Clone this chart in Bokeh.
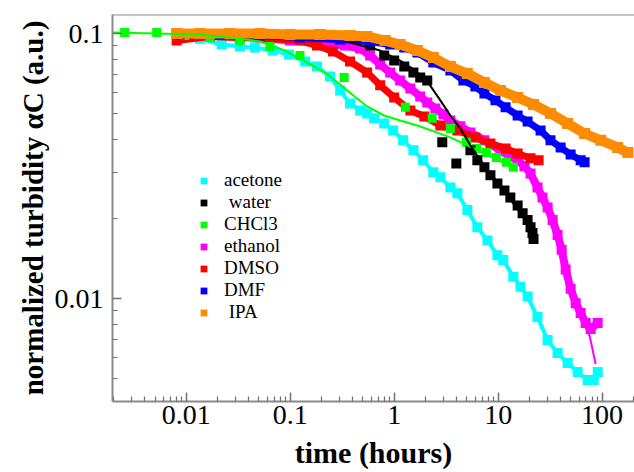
from bokeh.plotting import figure
from bokeh.models import FixedTicker, Legend, LegendItem, Span, CustomJSTickFormatter
from bokeh.embed import file_html
from bokeh.resources import INLINE

# ---------------- data ----------------
acetone_t = [0.00826, 0.0135, 0.0219, 0.0327, 0.0457, 0.0681, 0.0972, 0.139, 0.181, 0.241,
             0.302, 0.376, 0.470, 0.549, 0.641, 0.801, 0.978, 1.22, 1.53, 1.90,
             2.38, 2.78, 3.47, 4.05, 5.06, 6.31, 7.89, 9.84, 11.2, 14.0,
             16.4, 19.2, 23.9, 29.9, 37.3, 46.6, 58.2, 72.6, 83.0, 90.7]
acetone_c = [0.0991, 0.0957, 0.0909, 0.0894, 0.0886, 0.0863, 0.0834, 0.0785, 0.0751, 0.0689,
             0.0610, 0.0545, 0.0513, 0.0500, 0.0479, 0.0458, 0.0431, 0.0396, 0.0363, 0.0333,
             0.0300, 0.0287, 0.0263, 0.0250, 0.0216, 0.0186, 0.0166, 0.0146, 0.0140, 0.0121,
             0.0111, 0.0102, 0.00853, 0.00699, 0.00625, 0.00573, 0.00530, 0.00494, 0.00494, 0.00530]

water_t = [0.587, 0.801, 1.0, 1.25, 1.53, 1.78, 2.08,
           2.90, 3.96, 5.41, 6.31, 7.38, 8.43, 9.84, 11.5, 13.1, 15.4,
           17.2, 19.2, 20.5, 21.4, 21.9]
water_c = [0.0901, 0.0826, 0.0791, 0.0751, 0.0713, 0.0683, 0.0665,
           0.0389, 0.0324, 0.0363, 0.0333, 0.0313, 0.0292, 0.0272, 0.0256, 0.0241, 0.0225,
           0.0210, 0.0198, 0.0186, 0.0177, 0.0168]
water_fit_t = [0.376, 0.733, 1.14, 1.59, 2.08, 2.78, 3.47, 4.33, 5.41, 6.75, 10.5, 16.4, 21.4]
water_fit_c = [0.0925, 0.0863, 0.0791, 0.0726, 0.0660, 0.0560, 0.0491, 0.0439, 0.0379,
               0.0333, 0.0266, 0.0210, 0.0177]

chcl3_t = [0.00255, 0.00519, 0.00966, 0.0168, 0.0327, 0.0637, 0.124, 0.330, 1.28, 2.32,
           3.47, 4.95, 6.18, 7.71, 9.63, 12.0, 14.0]
chcl3_c = [0.1009, 0.1009, 0.0983, 0.0966, 0.0941, 0.0894, 0.0826, 0.0683, 0.0527, 0.0479,
           0.0439, 0.0389, 0.0369, 0.0356, 0.0341, 0.0327, 0.0313]
chcl3_fit_t = [0.00191, 0.0135, 0.0327, 0.0510, 0.0889, 0.145, 0.216, 0.302, 0.394, 0.549,
               0.801, 1.14, 1.67, 3.47, 7.38, 14.7]
chcl3_fit_c = [0.1009, 0.0991, 0.0957, 0.0933, 0.0863, 0.0778, 0.0713, 0.0643, 0.0589, 0.0531,
               0.0491, 0.0470, 0.0450, 0.0406, 0.0353, 0.0310]

ethanol_t = [0.00864, 0.0135, 0.0262, 0.0510, 0.0993, 0.193, 0.337, 0.470, 0.587, 0.733,
             0.915, 1.14, 1.43, 1.78, 2.08, 2.49, 2.97, 3.47, 4.33, 5.41,
             7.38, 10.5, 13.1, 15.4, 17.9, 20.5, 23.9, 26.7, 29.9, 33.4,
             37.3, 40.8, 44.6, 49.8, 55.7, 62.2, 69.5, 77.6, 90.7]
ethanol_c = [0.0991, 0.0991, 0.0983, 0.0966, 0.0941, 0.0925, 0.0901, 0.0878, 0.0826, 0.0764,
             0.0713, 0.0665, 0.0621, 0.0579, 0.0550, 0.0522, 0.0496, 0.0470, 0.0447, 0.0424,
             0.0396, 0.0363, 0.0344, 0.0333, 0.0316, 0.0297, 0.0263, 0.0241, 0.0221, 0.0198,
             0.0174, 0.0153, 0.0129, 0.0109, 0.00963, 0.00884, 0.00810, 0.00769, 0.00810]
ethanol_fit_t = [20.5, 31.9, 44.6, 62.2, 75.9, 86.7]
ethanol_fit_c = [0.0292, 0.0207, 0.0134, 0.00868, 0.00724, 0.00568]

dmso_t = [0.00807, 0.0168, 0.0327, 0.0637, 0.124, 0.181, 0.258, 0.376, 0.549, 0.733,
          1.0, 1.43, 1.95, 2.78, 4.05, 6.04, 8.43, 11.8, 15.4, 20.5, 24.5]
dmso_c = [0.0941, 0.0975, 0.0966, 0.0957, 0.0941, 0.0901, 0.0856, 0.0785, 0.0713, 0.0638,
          0.0574, 0.0513, 0.0487, 0.0450, 0.0431, 0.0406, 0.0385, 0.0369, 0.0353, 0.0339, 0.0333]

dmf_t = [0.00864, 0.0210, 0.0510, 0.124, 0.302, 0.587, 0.915, 1.25, 1.67, 2.38,
         3.47, 4.63, 6.04, 7.38, 9.42, 11.8, 15.4, 19.2, 25.6, 31.9,
         39.9, 49.8, 62.2, 67.9]
dmf_c = [0.0991, 0.0991, 0.0983, 0.0966, 0.0949, 0.0933, 0.0909, 0.0886, 0.0848, 0.0778,
         0.0726, 0.0665, 0.0632, 0.0594, 0.0560, 0.0527, 0.0491, 0.0466, 0.0431, 0.0396,
         0.0372, 0.0350, 0.0333, 0.0327]

ipa_t = [0.00807, 0.0135, 0.0262, 0.0510, 0.0993, 0.193, 0.376, 0.549, 0.819, 1.14,
         1.67, 2.38, 3.47, 5.06, 7.38, 10.5, 15.4, 21.9, 31.9, 46.6,
         67.9, 97.0, 141, 177]
ipa_c = [0.1, 0.1, 0.1, 0.1, 0.0991, 0.0991, 0.0983, 0.0975, 0.0941, 0.0909,
         0.0863, 0.0812, 0.0751, 0.0707, 0.0654, 0.0610, 0.0574, 0.0540, 0.0500, 0.0458,
         0.0420, 0.0396, 0.0372, 0.0356]

legend_labels = ["acetone", " water", "CHCl3", "ethanol", "DMSO", "DMF", " IPA"]
x_ticks = [0.01, 0.1, 1, 10, 100]
y_ticks = [0.01, 0.1]

# ---------------- figure ----------------
FONT = "Liberation Serif"
X0, X1 = 0.00195, 205
Y0, Y1 = 0.0041, 0.118

p = figure(width=634, height=472, x_axis_type="log", y_axis_type="log",
           x_range=(X0, X1), y_range=(Y0, Y1),
           output_backend="svg", toolbar_location=None,
           min_border_left=112, min_border_top=14, min_border_right=0, min_border_bottom=71)
p.outline_line_color = None
p.grid.visible = False
p.background_fill_color = "white"

xminor = [k * d for d in [0.001, 0.01, 0.1, 1, 10, 100] for k in range(2, 10)]
yminor = [k * d for d in [0.001, 0.01] for k in range(2, 10)]
p.xaxis.ticker = FixedTicker(ticks=x_ticks, minor_ticks=xminor)
p.yaxis.ticker = FixedTicker(ticks=y_ticks, minor_ticks=yminor)
p.xaxis.formatter = CustomJSTickFormatter(code="return tick.toString();")
p.yaxis.formatter = CustomJSTickFormatter(code="return tick.toString();")

p.axis.axis_line_color = "#8a8a8a"
p.axis.axis_line_width = 2
p.axis.major_tick_line_color = "#707070"
p.axis.minor_tick_line_color = "#707070"
p.axis.major_tick_line_width = 1.5
p.axis.minor_tick_line_width = 1.2
p.axis.major_tick_in = 9
p.axis.major_tick_out = 0
p.axis.minor_tick_in = 5
p.axis.minor_tick_out = 0
p.axis.major_label_text_font = FONT
p.axis.major_label_text_font_size = "28px"
p.axis.major_label_text_color = "black"
p.axis.axis_label_text_font = FONT
p.axis.axis_label_text_font_style = "bold"
p.axis.axis_label_text_color = "black"
p.xaxis.axis_label_text_font_size = "30px"
p.yaxis.axis_label_text_font_size = "29px"

p.xaxis.axis_label = "time (hours)"
p.yaxis.axis_label = "normalized turbidity \u03b1C (a.u.)"
p.xaxis.major_label_standoff = 4
p.xaxis.axis_label_standoff = 9
p.yaxis.major_label_standoff = 9
p.yaxis.axis_label_standoff = 3

p.add_layout(Span(location=Y1, dimension="width", line_color="#8a8a8a", line_width=2))

CYAN, BLACK, GREEN, MAGENTA, RED, BLUE, ORANGE = (
    "#00FFFF", "#000000", "#00FF00", "#FF00FF", "#FF0000", "#0000FF", "#FF8C00")

# data bands + squares (drawing order bottom -> top)
renderers = {}
p.line(acetone_t, acetone_c, line_color=CYAN, line_width=4)
renderers["acetone"] = p.scatter(acetone_t, acetone_c, marker="square", size=10,
                                 fill_color=CYAN, line_color=None)
p.line(ethanol_t, ethanol_c, line_color=MAGENTA, line_width=8)
renderers["ethanol"] = p.scatter(ethanol_t, ethanol_c, marker="square", size=10,
                                 fill_color=MAGENTA, line_color=None)
p.line(dmso_t, dmso_c, line_color=RED, line_width=7)
renderers["DMSO"] = p.scatter(dmso_t, dmso_c, marker="square", size=10,
                              fill_color=RED, line_color=None)
renderers["CHCl3"] = p.scatter(chcl3_t, chcl3_c, marker="square", size=9,
                               fill_color=GREEN, line_color=None)
renderers["water"] = p.scatter(water_t, water_c, marker="square", size=10,
                               fill_color=BLACK, line_color=None)
p.line(dmf_t, dmf_c, line_color=BLUE, line_width=7)
renderers["DMF"] = p.scatter(dmf_t, dmf_c, marker="square", size=10,
                             fill_color=BLUE, line_color=None)
p.line(ipa_t, ipa_c, line_color=ORANGE, line_width=10)
renderers["IPA"] = p.scatter(ipa_t, ipa_c, marker="square", size=11,
                             fill_color=ORANGE, line_color=None)

# fit lines
p.line(chcl3_fit_t, chcl3_fit_c, line_color=GREEN, line_width=2)
p.line(water_fit_t, water_fit_c, line_color=BLACK, line_width=2)
p.line(ethanol_fit_t, ethanol_fit_c, line_color=MAGENTA, line_width=2)

keys = ["acetone", "water", "CHCl3", "ethanol", "DMSO", "DMF", "IPA"]
items = [LegendItem(label=lab, renderers=[renderers[k]]) for lab, k in zip(legend_labels, keys)]
legend = Legend(items=items, location=(83, 78),
                label_text_font=FONT, label_text_font_size="19px", label_text_color="black",
                label_height=22, glyph_height=17, glyph_width=17, spacing=0,
                padding=0, margin=0, label_standoff=12,
                border_line_color=None, background_fill_alpha=0)
p.add_layout(legend)

open("out.html", "w").write(file_html(p, INLINE))
